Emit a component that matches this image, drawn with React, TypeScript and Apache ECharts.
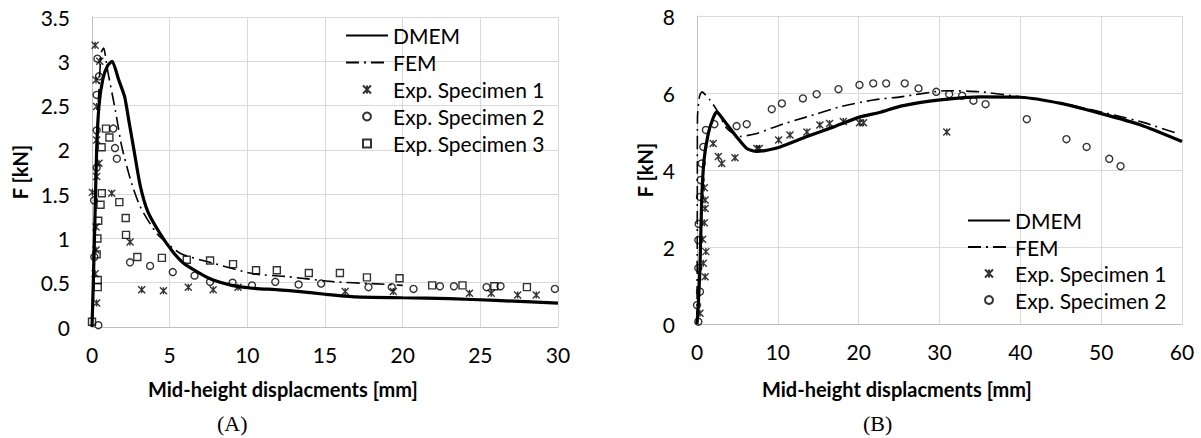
import React, { useEffect, useRef } from "react";
import * as echarts from "echarts";

const xTicksA = [0, 5, 10, 15, 20, 25, 30];
const yTicksA = [0, 0.5, 1, 1.5, 2, 2.5, 3, 3.5];
const xTicksB = [0, 10, 20, 30, 40, 50, 60];
const yTicksB = [0, 2, 4, 6, 8];

const dmemA = [[0,0],[0.1,0.6],[0.2,1.3],[0.3,2.0],[0.45,2.5],[0.7,2.8],[1.0,2.95],[1.3,3.0],[1.7,2.8],[2.1,2.6],[2.4,2.3],[2.7,2.0],[3.1,1.6],[3.6,1.3],[4.4,1.05],[5.2,0.85],[5.9,0.72],[7,0.6],[7.8,0.53],[9,0.47],[10.2,0.44],[12,0.42],[13.4,0.4],[15,0.37],[17,0.34],[20,0.33],[23,0.32],[26,0.3],[30,0.27]];
const femA = [[0,0],[0.15,1],[0.3,2],[0.45,2.7],[0.6,3.1],[0.75,3.15],[1.0,2.9],[1.5,2.45],[1.9,2.05],[2.5,1.65],[3.1,1.36],[4.2,1.05],[5.7,0.83],[7.8,0.72],[10.4,0.6],[12.5,0.57],[15.6,0.51],[18,0.49],[20,0.47]];
const exp1A = [[0.2,3.18],[0.5,3.0],[0.26,2.79],[0.3,2.49],[0.3,2.11],[0.45,1.85],[0.3,1.7],[0.02,1.52],[0.26,1.13],[0.26,0.87],[0.2,0.6],[0.3,0.27],[1.27,1.51],[2.45,0.96],[3.2,0.42],[4.6,0.41],[6.2,0.45],[7.8,0.42],[9.4,0.45],[16.3,0.4],[19.4,0.4],[24.3,0.38],[25.7,0.38],[27.4,0.36],[28.6,0.36]];
const exp2A = [[0.41,0.02],[0.15,0.79],[0.13,1.43],[0.3,1.8],[0.3,2.22],[0.3,2.62],[0.45,2.83],[0.35,3.03],[1.37,2.24],[1.48,2.02],[1.6,1.9],[2.45,0.73],[3.74,0.69],[5.2,0.62],[6.6,0.58],[7.6,0.51],[9.05,0.5],[10.3,0.47],[11.8,0.51],[13.3,0.48],[14.75,0.49],[17.8,0.45],[19.3,0.45],[20.7,0.43],[22.4,0.46],[23.3,0.46],[25.4,0.45],[26.3,0.46],[29.8,0.43]];
const exp3A = [[0,0.06],[0.37,0.45],[0.37,0.53],[0.3,0.82],[0.35,1.0],[0.4,1.2],[0.63,1.51],[0.55,1.38],[0.62,2.03],[0.9,2.24],[1.12,2.14],[1.76,1.41],[2.17,1.23],[2.19,1.04],[2.92,0.79],[4.5,0.78],[6.1,0.76],[7.6,0.75],[9.08,0.71],[10.56,0.64],[11.9,0.64],[13.96,0.61],[15.96,0.61],[17.7,0.56],[19.8,0.55],[21.9,0.47],[23.85,0.47],[25.9,0.46],[28,0.45]];

const dmemB = [[0,0],[0.16,0.5],[0.37,1.49],[0.58,3.2],[0.87,4.26],[1.4,4.95],[2.0,5.35],[2.44,5.51],[3.0,5.38],[3.47,5.25],[4.9,4.86],[6.15,4.56],[7.4,4.48],[8.8,4.52],[10.3,4.6],[13.6,4.87],[16.9,5.12],[20.2,5.38],[22.7,5.5],[25.2,5.66],[30.1,5.82],[35.1,5.9],[40,5.89],[45,5.73],[49.9,5.47],[54.9,5.17],[60,4.74]];
const femB = [[0,0],[0.03,2],[0.04,4],[0.06,5.38],[0.3,5.9],[0.6,6.03],[1.6,5.82],[2.44,5.56],[3.7,5.08],[5.3,4.87],[7.4,4.95],[10.3,5.17],[13.6,5.38],[17.7,5.64],[21.8,5.82],[25.2,5.9],[30.9,6.06],[35.1,6.03],[40,5.9],[45,5.74],[51.6,5.43],[55,5.25],[59.4,4.95]];
const exp1B = [[0.37,0.28],[1.0,1.23],[0.78,1.58],[1.1,1.88],[0.7,2.2],[0.9,2.63],[1.0,3.0],[1.0,3.22],[0.9,3.54],[2.0,4.69],[2.64,4.35],[3.06,4.17],[4.7,4.32],[7.4,4.56],[7.7,4.56],[10.1,4.78],[11.5,4.91],[13.6,4.99],[15.2,5.17],[16.4,5.21],[18.1,5.26],[20.1,5.23],[20.6,5.23],[30.9,4.99]];
const exp2B = [[0.16,0.06],[0,0.49],[0.37,0.84],[0.16,1.45],[0.16,2.18],[0.2,2.6],[0.37,3.3],[0.45,3.74],[0.58,4.17],[0.78,4.6],[1.1,5.04],[2.15,5.19],[4.9,5.14],[6.15,5.19],[9.25,5.58],[10.5,5.73],[13.1,5.86],[14.8,5.97],[17.5,6.1],[20.1,6.21],[21.8,6.25],[23.4,6.25],[25.7,6.25],[27.4,6.12],[29.6,6.03],[31.2,5.97],[32.8,5.93],[34.2,5.8],[35.7,5.71],[40.8,5.32],[45.7,4.8],[48.2,4.6],[51,4.29],[52.4,4.1]];

const FONT = "Lato";
const STAR = "path://M0,0L10,10M10,0L0,10M5,0L5,10";
const SQUARE = "path://M0,0H10V10H0Z";

export default function App() {
  const ref = useRef<HTMLDivElement>(null);
  useEffect(() => {
    if (!ref.current) return;
    const chart = echarts.init(ref.current, null, { renderer: "svg" });
    const axisCommon = {
      axisLine: { show: true, lineStyle: { color: "#bfbfbf", width: 1 } },
      axisTick: { show: false },
      splitLine: { show: true, lineStyle: { color: "#d9d9d9", width: 1 } },
      axisLabel: { color: "#000", fontFamily: FONT, fontSize: 21 },
    };
    const xAxis = (idx: number, ticks: number[]) => ({
      ...axisCommon,
      type: "value",
      gridIndex: idx,
      min: ticks[0],
      max: ticks[ticks.length - 1],
      interval: ticks[1] - ticks[0],
      axisLabel: { ...axisCommon.axisLabel, margin: 17 },
    });
    const yAxis = (idx: number, ticks: number[], gap: number) => ({
      ...axisCommon,
      type: "value",
      gridIndex: idx,
      min: ticks[0],
      max: ticks[ticks.length - 1],
      interval: ticks[1] - ticks[0],
      axisLabel: { ...axisCommon.axisLabel, margin: 22 },
      name: "F [kN]",
      nameLocation: "middle",
      nameGap: gap,
      nameTextStyle: { color: "#000", fontFamily: FONT, fontSize: 20, fontWeight: "bold" },
    });
    const lineS = (name: string, data: number[][], idx: number, dashed: boolean) => ({
      name,
      type: "line",
      xAxisIndex: idx,
      yAxisIndex: idx,
      data,
      symbol: "none",
      smooth: 0.2,
      itemStyle: { color: "#000" },
      lineStyle: dashed
        ? { color: "#000", width: 1.6, type: [13, 5, 2, 5] }
        : { color: "#000", width: 3.2 },
      z: 2,
    });
    const scat = (name: string, data: number[][], idx: number, symbol: string, size: number) => ({
      name,
      type: "scatter",
      xAxisIndex: idx,
      yAxisIndex: idx,
      data,
      symbol,
      symbolSize: size,
      itemStyle: { color: "rgba(0,0,0,0)", borderColor: "#000", borderWidth: 1.4 },
      z: 3,
    });
    const legendText = { color: "#000", fontFamily: FONT, fontSize: 21 };
    const lineItem = (name: string) => ({ name, itemStyle: { opacity: 0 } });
    chart.setOption({
      animation: false,
      backgroundColor: "#fff",
      grid: [
        { left: 92, top: 17, width: 466, height: 310 },
        { left: 697, top: 16, width: 485, height: 308 },
      ],
      xAxis: [xAxis(0, xTicksA), xAxis(1, xTicksB)],
      yAxis: [yAxis(0, yTicksA, 62), yAxis(1, yTicksB, 42)],
      legend: [
        {
          orient: "vertical",
          left: 340,
          top: 20,
          itemWidth: 42,
          itemHeight: 8,
          itemGap: 6,
          selectedMode: false,
          textStyle: legendText,
          data: [lineItem("DMEM"), lineItem("FEM"), "Exp. Specimen 1", "Exp. Specimen 2", "Exp. Specimen 3"],
        },
        {
          orient: "vertical",
          left: 962,
          top: 205,
          itemWidth: 42,
          itemHeight: 8,
          itemGap: 5.5,
          selectedMode: false,
          textStyle: legendText,
          data: [lineItem("DMEM"), lineItem("FEM"), "Exp. Specimen 1", "Exp. Specimen 2"],
        },
      ],
      graphic: [
        { type: "text", left: 148, top: 379, style: { text: "Mid-height displacments [mm]", font: `bold 20px ${FONT}`, fill: "#000" } },
        { type: "text", left: 762, top: 379, style: { text: "Mid-height displacments [mm]", font: `bold 20px ${FONT}`, fill: "#000" } },
        { type: "text", left: 217, top: 412, style: { text: "(A)", font: "22px 'Liberation Serif'", fill: "#000" } },
        { type: "text", left: 863, top: 412, style: { text: "(B)", font: "22px 'Liberation Serif'", fill: "#000" } },
      ],
      series: [
        lineS("DMEM", dmemA, 0, false),
        lineS("FEM", femA, 0, true),
        scat("Exp. Specimen 1", exp1A, 0, STAR, 7),
        scat("Exp. Specimen 2", exp2A, 0, "circle", 7),
        scat("Exp. Specimen 3", exp3A, 0, SQUARE, 7),
        lineS("DMEM", dmemB, 1, false),
        lineS("FEM", femB, 1, true),
        scat("Exp. Specimen 1", exp1B, 1, STAR, 7),
        scat("Exp. Specimen 2", exp2B, 1, "circle", 7),
      ],
    });
    return () => chart.dispose();
  }, []);
  return <div ref={ref} style={{ position: "absolute", left: 0, top: 0, width: 1201, height: 438 }} />;
}
